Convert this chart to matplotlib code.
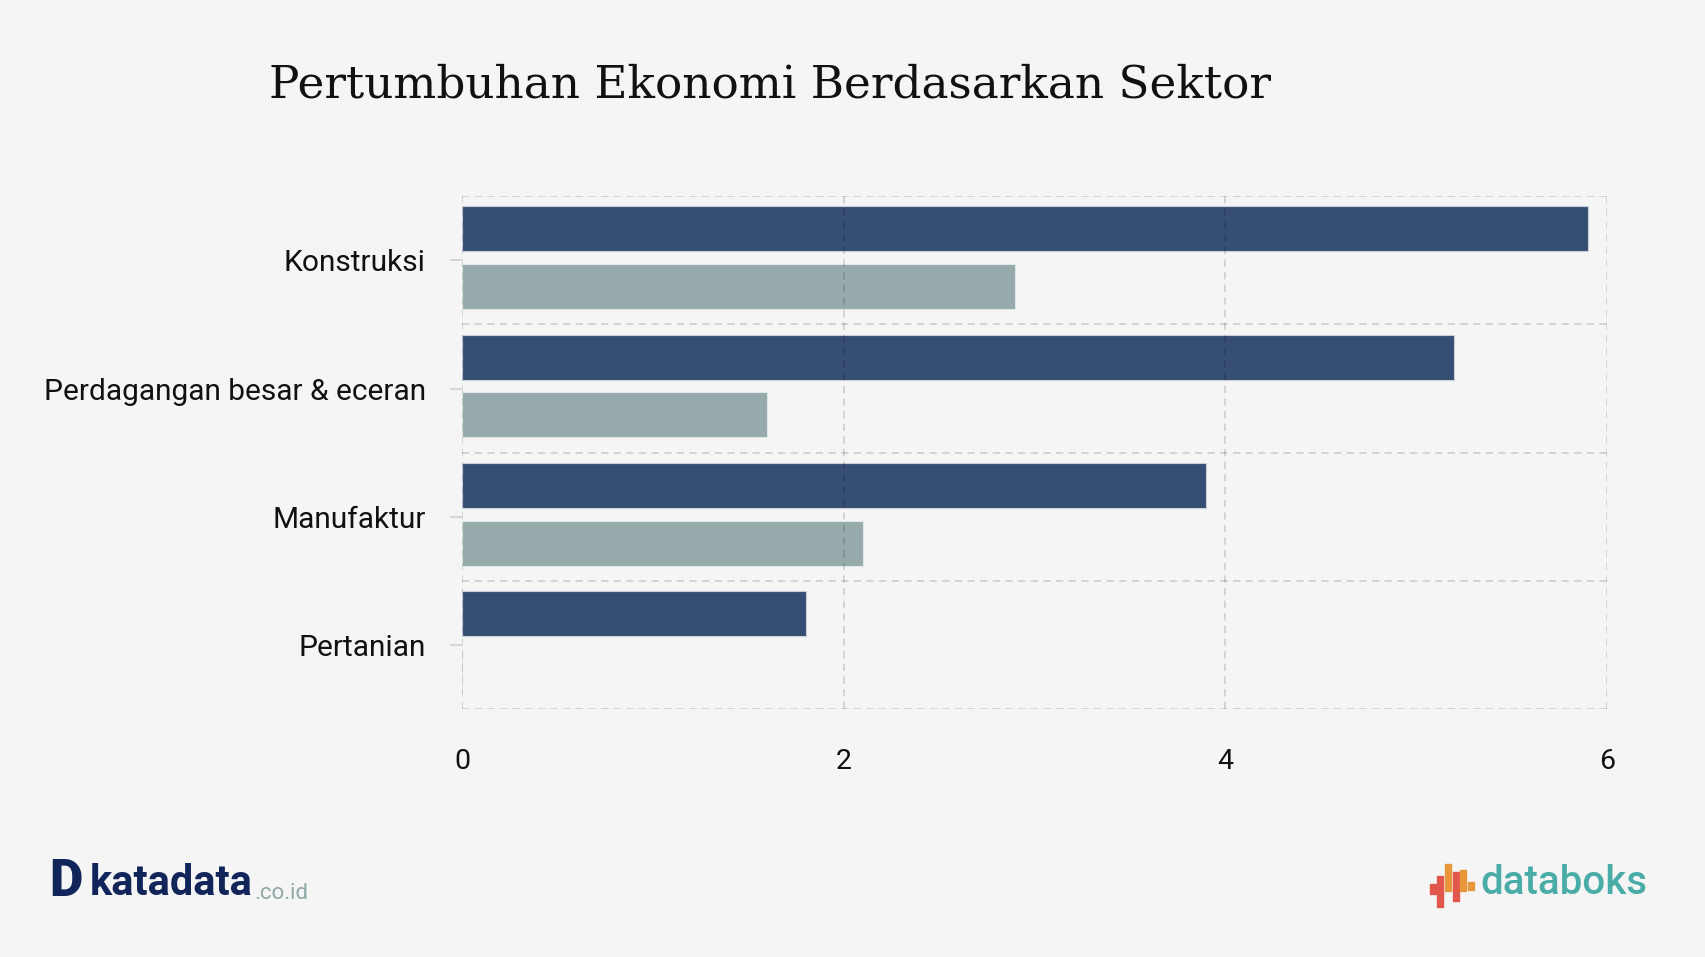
import numpy as np
import matplotlib
matplotlib.use("Agg")
import matplotlib.pyplot as plt
from matplotlib.patches import Rectangle

# Data
sectors = ["Konstruksi", "Perdagangan besar & eceran", "Manufaktur", "Pertanian"]
series_a = [5.9, 5.2, 3.9, 1.8]   # dark bars
series_b = [2.9, 1.6, 2.1, 0.0]   # light bars
x_ticks = [0, 2, 4, 6]

bg = "#f5f5f5"
dark = "#364e74"
light = "#96aaab"
grid_kw = dict(color="black", alpha=0.15, linestyle=(0, (4, 3)), linewidth=1.3)

plt.rcParams["font.family"] = ["Roboto", "DejaVu Sans"]

fig = plt.figure(figsize=(17.05, 9.57), dpi=100, facecolor=bg)
ax = fig.add_axes([0.271, 0.259, 0.6715, 0.536], facecolor=bg)

y = np.arange(len(sectors))
h = 0.35
ax.barh(y - 0.245, series_a, height=h, color=dark, edgecolor="#c8d0dc", linewidth=0.8, zorder=1)
ax.barh(y + 0.205, series_b, height=h, color=light, edgecolor="#e0e6e6", linewidth=0.8, zorder=1)

ax.set_xlim(0, 6)
ax.set_ylim(len(sectors) - 0.5, -0.5)
ax.set_xticks(x_ticks)
ax.set_xticklabels([str(t) for t in x_ticks])
ax.set_yticks(y)
ax.set_yticklabels(sectors)
ax.set_yticks(np.arange(-0.5, len(sectors), 1.0), minor=True)

for s in ax.spines.values():
    s.set_visible(False)

# grid on top of the bars, like the original
ax.set_axisbelow(False)
ax.grid(axis="x", which="major", **grid_kw)
ax.grid(axis="y", which="minor", **grid_kw)
ax.tick_params(axis="y", which="minor", length=0)
ax.tick_params(axis="x", which="major", length=0, pad=28, labelsize=20.5, colors="#111111")
ax.tick_params(axis="y", which="major", length=9, width=1.2, color="#cfcfcf", pad=17,
               labelsize=21.5, labelcolor="#111111")

fig.text(0.158, 0.911, "Pertumbuhan Ekonomi Berdasarkan Sektor", family="DejaVu Serif",
         fontsize=32.7, color="#111111", va="center", ha="left")

# katadata logo
fig.text(0.029, 0.078, "D", color="#12255a", fontsize=37, fontweight="black",
         ha="left", va="center")
k_txt = fig.text(0.0525, 0.077, "katadata", color="#12255a", fontsize=30, fontweight="bold",
                 ha="left", va="center")
fig.canvas.draw()
bb = k_txt.get_window_extent().transformed(fig.transFigure.inverted())
fig.text(bb.x1 + 0.001, 0.066, ".co.id", color="#8fa9a8", fontsize=16, ha="left", va="center")

# databoks logo
bars_logo = [(0.0, 0.066, 0.010, "#e2574c"), (0.0045, 0.052, 0.033, "#e2574c"),
             (0.009, 0.069, 0.028, "#e8963a"), (0.0135, 0.059, 0.030, "#e2574c"),
             (0.018, 0.069, 0.022, "#e8963a"), (0.0225, 0.070, 0.008, "#e8963a")]
for dx, yb, hh, c in bars_logo:
    fig.patches.append(Rectangle((0.8385 + dx, yb), 0.0035, hh, transform=fig.transFigure, color=c))
fig.text(0.868, 0.077, "databoks", color="#4aaca6", fontsize=29, fontweight="medium",
         ha="left", va="center")

fig.savefig("out.png", dpi=100, facecolor=bg)
